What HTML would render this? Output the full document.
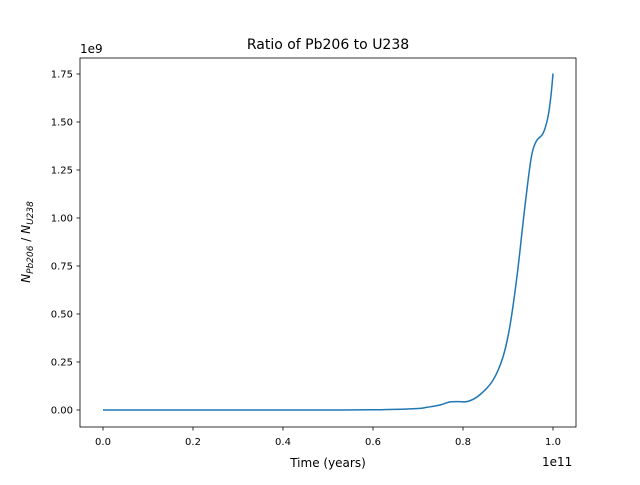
<!DOCTYPE html>
<html><head><meta charset="utf-8"><style>
body{margin:0;background:#fff;}
svg text{font-family:"DejaVu Sans","Liberation Sans",sans-serif;fill:#000;}
</style></head><body>
<svg id="chart" width="640" height="480" xmlns="http://www.w3.org/2000/svg">
<rect x="0" y="0" width="640" height="480" fill="#fff"/>
<text x="328" y="49" font-size="14" text-anchor="middle">Ratio of Pb206 to U238</text>
<g id="grid"></g>
<path id="line" fill="none" stroke="#1f77b4" stroke-width="1.5" stroke-linejoin="round"/>
<rect x="80" y="58" width="496" height="369" fill="none" stroke="#000" stroke-width="0.8"/>
<text x="80" y="53" font-size="12">1e9</text>
<text x="542" y="466" font-size="12">1e11</text>
<text x="328" y="467" font-size="12" text-anchor="middle">Time (years)</text>
<text transform="translate(30,242) rotate(-90)" font-size="12" text-anchor="middle"><tspan font-style="italic">N</tspan><tspan font-style="italic" font-size="9" dy="3">Pb206</tspan><tspan dy="-3"> / </tspan><tspan font-style="italic">N</tspan><tspan font-style="italic" font-size="9" dy="3">U238</tspan></text>
</svg>
<script>
const xTicks=[0,0.2,0.4,0.6,0.8,1.0];
const xTickLabels=["0.0","0.2","0.4","0.6","0.8","1.0"];
const yTicks=[0,0.25,0.5,0.75,1.0,1.25,1.5,1.75];
const yTickLabels=["0.00","0.25","0.50","0.75","1.00","1.25","1.50","1.75"];
const timeVals=[0,0.2,0.4,0.5,0.6,0.65,0.7,0.72,0.749,0.771,0.79,0.811,0.837,0.867,0.889,0.904,0.919,0.930,0.941,0.952,0.963,0.978,0.989,0.996,1.0];
const ratioVals=[0,0,0,0,0.001,0.003,0.008,0.014,0.026,0.042,0.044,0.045,0.078,0.156,0.278,0.434,0.677,0.903,1.128,1.319,1.400,1.441,1.528,1.649,1.753];
const sx=v=>103+v*450;
const sy=v=>410-v*192;
const g=document.getElementById('grid');
const NS="http://www.w3.org/2000/svg";
xTicks.forEach((t,i)=>{
  const l=document.createElementNS(NS,'line');
  
  
  l.setAttribute('x1',sx(t));l.setAttribute('x2',sx(t));l.setAttribute('y1',427);l.setAttribute('y2',430.5);
  l.setAttribute('stroke','#000');l.setAttribute('stroke-width','0.8');g.appendChild(l);
  const tx=document.createElementNS(NS,'text');
  
  
  tx.setAttribute('x',sx(t));tx.setAttribute('y',445);tx.setAttribute('font-size','10');tx.setAttribute('text-anchor','middle');
  tx.textContent=xTickLabels[i];g.appendChild(tx);
});
yTicks.forEach((t,i)=>{
  const l=document.createElementNS(NS,'line');
  
  
  l.setAttribute('x1',76.5);l.setAttribute('x2',80);l.setAttribute('y1',sy(t));l.setAttribute('y2',sy(t));
  l.setAttribute('stroke','#000');l.setAttribute('stroke-width','0.8');g.appendChild(l);
  const tx=document.createElementNS(NS,'text');
  
  
  tx.setAttribute('x',73);tx.setAttribute('y',sy(t)+3.5);tx.setAttribute('font-size','10');tx.setAttribute('text-anchor','end');
  tx.textContent=yTickLabels[i];g.appendChild(tx);
});
// Catmull-Rom smoothing
const P=timeVals.map((t,i)=>[sx(t),sy(ratioVals[i])]);
let d='M'+P[0][0].toFixed(1)+','+P[0][1].toFixed(1);
for(let i=0;i<P.length-1;i++){
  const p0=P[Math.max(0,i-1)],p1=P[i],p2=P[i+1],p3=P[Math.min(P.length-1,i+2)];
  const c1=[p1[0]+(p2[0]-p0[0])/6,p1[1]+(p2[1]-p0[1])/6];
  const c2=[p2[0]-(p3[0]-p1[0])/6,p2[1]-(p3[1]-p1[1])/6];
  d+=` C${c1[0].toFixed(1)},${c1[1].toFixed(1)} ${c2[0].toFixed(1)},${c2[1].toFixed(1)} ${p2[0].toFixed(1)},${p2[1].toFixed(1)}`;
}
document.getElementById('line').setAttribute('d',d);
</script>
</body></html>
